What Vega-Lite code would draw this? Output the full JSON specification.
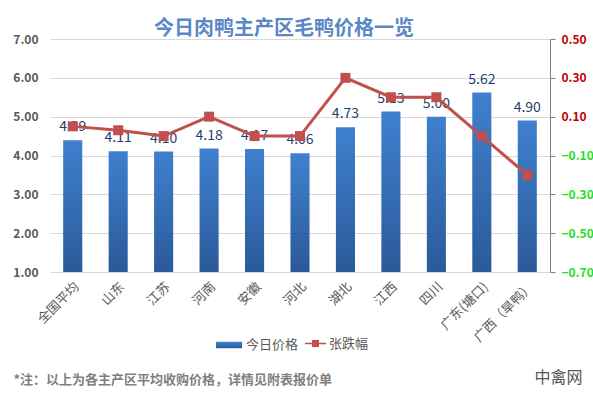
{
  "$schema": "https://vega.github.io/schema/vega-lite/v6.json",
  "autosize": {"type": "none"},
  "width": 500,
  "height": 233,
  "padding": {"left": 50, "top": 39, "right": 43, "bottom": 127},
  "background": "#ffffff",
  "config": {"font": "Noto Sans CJK SC", "view": {"stroke": null}},
  "title": {"text": "今日肉鸭主产区毛鸭价格一览", "fontSize": 20, "fontWeight": "bold", "color": "#5a87c5", "anchor": "middle", "offset": -6, "dx": -16},
  "data": {"values": [
    {"region": "全国平均", "price": 4.39, "change": 0.05},
    {"region": "山东", "price": 4.11, "change": 0.03},
    {"region": "江苏", "price": 4.10, "change": 0.00},
    {"region": "河南", "price": 4.18, "change": 0.10},
    {"region": "安徽", "price": 4.17, "change": 0.00},
    {"region": "河北", "price": 4.06, "change": 0.00},
    {"region": "湖北", "price": 4.73, "change": 0.30},
    {"region": "江西", "price": 5.13, "change": 0.20},
    {"region": "四川", "price": 5.00, "change": 0.20},
    {"region": "广东(塘口)", "price": 5.62, "change": 0.00},
    {"region": "广西（旱鸭）", "price": 4.90, "change": -0.20}
  ]},
  "encoding": {
    "x": {"field": "region", "type": "nominal", "sort": null,
      "scale": {"paddingInner": 0.58, "paddingOuter": 0.29},
      "axis": {"labelAngle": -45, "labelFontSize": 13, "labelColor": "#595959", "labelPadding": 8, "domain": false, "ticks": false,
        "title": "*注：以上为各主产区平均收购价格，详情见附表报价单", "titleX": -37, "titleY": 111, "titleAlign": "left", "titleAnchor": "start", "titleBaseline": "alphabetic", "titleFontSize": 13, "titleFontWeight": "bold", "titleColor": "#7f7f7f"}}
  },
  "layer": [
    {
      "encoding": {
        "y": {"field": "price", "type": "quantitative",
          "scale": {"domain": [1, 7], "zero": false, "nice": false},
          "axis": {"values": [1, 2, 3, 4, 5, 6, 7], "format": ".2f", "title": null, "labelColor": "#595959", "labelFontWeight": "bold", "labelFontSize": 12, "labelPadding": 12, "domain": false, "ticks": false, "gridColor": "#d9d9d9"}}
      },
      "layer": [
        {
          "mark": {"type": "bar", "color": {"gradient": "linear", "x1": 0, "y1": 0, "x2": 0, "y2": 1, "stops": [{"offset": 0, "color": "#3f80cf"}, {"offset": 1, "color": "#2b5a99"}]}},
          "encoding": {
            "y2": {"datum": 1},
            "opacity": {"datum": "今日价格", "type": "nominal",
              "scale": {"range": [1]},
              "legend": {"orient": "none", "legendX": 165, "legendY": 292, "title": null, "symbolType": "M-1,-0.25H1V0.25H-1Z", "symbolSize": 676, "labelFontSize": 13, "labelColor": "#595959", "labelOffset": 3,
                "encode": {"symbols": {"update": {"fill": {"value": "#3a74c0"}, "strokeWidth": {"value": 0}, "opacity": {"value": 1}}}}}}
          }
        },
        {
          "mark": {"type": "text", "fontSize": 14, "color": "#1f3f6f", "baseline": "alphabetic", "dy": -9},
          "encoding": {"text": {"field": "price", "type": "quantitative", "format": ".2f"}}
        }
      ]
    },
    {
      "encoding": {
        "y": {"field": "change", "type": "quantitative",
          "scale": {"domain": [-0.7, 0.5], "zero": false, "nice": false},
          "axis": {"orient": "right", "values": [-0.7, -0.5, -0.3, -0.1, 0.1, 0.3, 0.5], "format": ".2f", "grid": false,
            "labelColor": {"condition": {"test": "datum.value > 0", "value": "#c00000"}, "value": "#22dd22"},
            "labelFontWeight": "bold", "labelFontSize": 12, "labelPadding": 6, "domainColor": "#7f7f7f", "tickColor": "#7f7f7f", "tickSize": 5,
            "title": "中禽网", "titleAngle": 0, "titleX": -16, "titleY": 338, "titleAlign": "left", "titleBaseline": "middle", "titleFontSize": 16, "titleFontWeight": "normal", "titleColor": "#555555"}}
      },
      "layer": [
        {
          "mark": {"type": "line", "strokeWidth": 3},
          "encoding": {
            "stroke": {"datum": "张跌幅", "type": "nominal",
              "scale": {"range": ["#c0504d"]},
              "legend": {"orient": "none", "legendX": 255, "legendY": 294, "title": null, "symbolType": "M-1,-0.08H1V0.08H-1Z M-0.33,-0.33H0.33V0.33H-0.33Z", "symbolSize": 441, "labelFontSize": 13, "labelColor": "#595959", "labelOffset": 3,
                "encode": {"symbols": {"update": {"fill": {"value": "#c0504d"}, "strokeWidth": {"value": 0}}}}}}
          }
        },
        {
          "mark": {"type": "point", "shape": "square", "filled": true, "size": 100, "color": "#c0504d", "opacity": 1}
        }
      ]
    }
  ],
  "resolve": {"scale": {"y": "independent"}}
}
